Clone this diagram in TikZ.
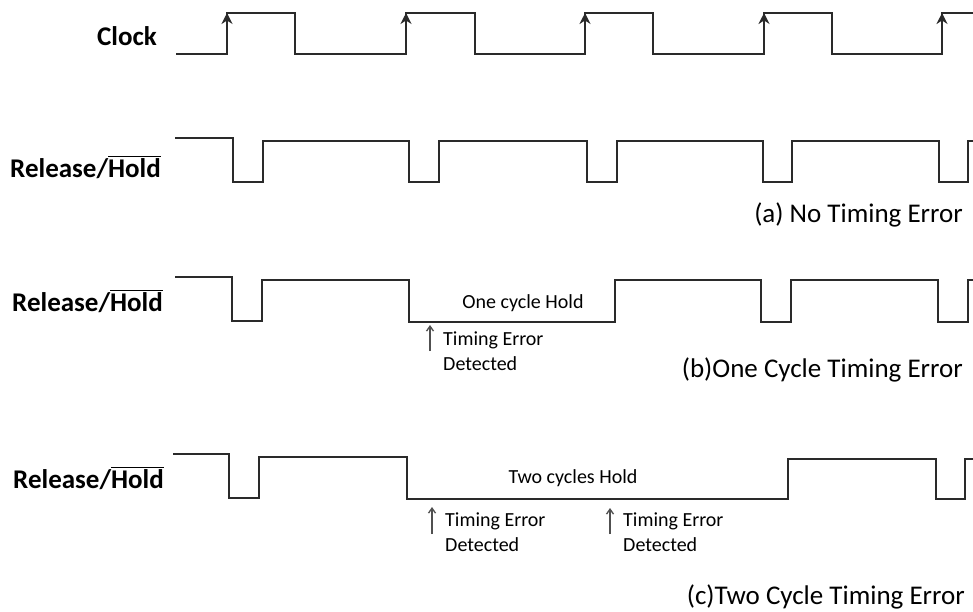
\documentclass[tikz,border=0pt]{standalone}
\usepackage{fontspec}
\setmainfont{Carlito}
\usetikzlibrary{arrows.meta}
\definecolor{wavegray}{HTML}{2A2A2A}
\definecolor{notegray}{HTML}{505050}
\tikzset{
  wave/.style={wavegray, line width=2.8pt, line join=miter},
  rise/.style={wave, -{Stealth[length=11pt,width=11pt]}},
  signame/.style={font=\fontsize{27}{32}\selectfont\bfseries, anchor=base east, inner sep=0pt},
  caption/.style={font=\fontsize{27}{32}\selectfont, anchor=base east, inner sep=0pt},
  note/.style={font=\fontsize{20}{25}\selectfont, inner sep=0pt},
  detect/.style={notegray, line width=1.3pt, -{Straight Barb[length=5pt,width=7pt]}}
}

\begin{document}
\begin{tikzpicture}[x=1pt,y=-1pt]
  \useasboundingbox (0,0) rectangle (973,611);
  % signal names
  \node[signame] (clk) at (157,45) {Clock};
  \node[signame] (relA) at (161,177) {Release/$\overline{\mbox{Hold}}$};
  \node[signame] (relB) at (163,311) {Release/$\overline{\mbox{Hold}}$};
  \node[signame] (relC) at (164,488) {Release/$\overline{\mbox{Hold}}$};

  % clock
  \draw[wave] (176,54) -- (227,54) -- (227,13) -- (295,13) -- (295,54) -- (406,54) -- (406,13)
    -- (475,13) -- (475,54) -- (585,54) -- (585,13) -- (653,13) -- (653,54) -- (764,54)
    -- (764,13) -- (832,13) -- (832,54) -- (942,54) -- (942,13) -- (973,13);
  \draw[rise] (227,54) -- (227,13);
  \draw[rise] (406,54) -- (406,13);
  \draw[rise] (585,54) -- (585,13);
  \draw[rise] (764,54) -- (764,13);
  \draw[rise] (942,54) -- (942,13);

  % (a) no timing error
  \draw[wave] (175,138) -- (233,138) -- (233,182) -- (263,182) -- (263,141) -- (409,141)
    -- (409,182) -- (439,182) -- (439,141) -- (587,141) -- (587,182) -- (617,182) -- (617,141)
    -- (763,141) -- (763,182) -- (792,182) -- (792,141) -- (939,141) -- (939,182) -- (968,182)
    -- (968,141) -- (973,141);
  \node[caption] (capA) at (963,222) {(a) No Timing Error};

  % (b) one cycle timing error
  \draw[wave] (175,277) -- (232,277) -- (232,321) -- (262,321) -- (262,280) -- (409,280)
    -- (409,322) -- (615,322) -- (615,280) -- (761,280) -- (761,322) -- (791,322) -- (791,280)
    -- (938,280) -- (938,322) -- (968,322) -- (968,280) -- (973,280);
  \node[note, anchor=base] (holdB) at (523,308) {One cycle Hold};
  \coordinate (detB1s) at (430,351);
  \coordinate (detB1e) at (430,325);
  \draw[detect] (detB1s) -- (detB1e);
  \node[note, anchor=base west, align=left] (errB1) at (443,370) {Timing Error\\Detected};
  \node[caption] (capB) at (963,377) {(b)One Cycle Timing Error};

  % (c) two cycle timing error
  \draw[wave] (173,454) -- (229,454) -- (229,498) -- (259,498) -- (259,457) -- (407,457)
    -- (407,499) -- (788,499) -- (788,459) -- (936,459) -- (936,499) -- (965,499) -- (965,459)
    -- (973,459);
  \node[note, anchor=base] (holdC) at (573,483) {Two cycles Hold};
  \coordinate (detC1s) at (432,534);
  \coordinate (detC1e) at (432,507);
  \draw[detect] (detC1s) -- (detC1e);
  \node[note, anchor=base west, align=left] (errC1) at (445,551) {Timing Error\\Detected};
  \coordinate (detC2s) at (610,534);
  \coordinate (detC2e) at (610,508);
  \draw[detect] (detC2s) -- (detC2e);
  \node[note, anchor=base west, align=left] (errC2) at (623,551) {Timing Error\\Detected};
  \node[caption] (capC) at (965,604) {(c)Two Cycle Timing Error};
\end{tikzpicture}
\end{document}
